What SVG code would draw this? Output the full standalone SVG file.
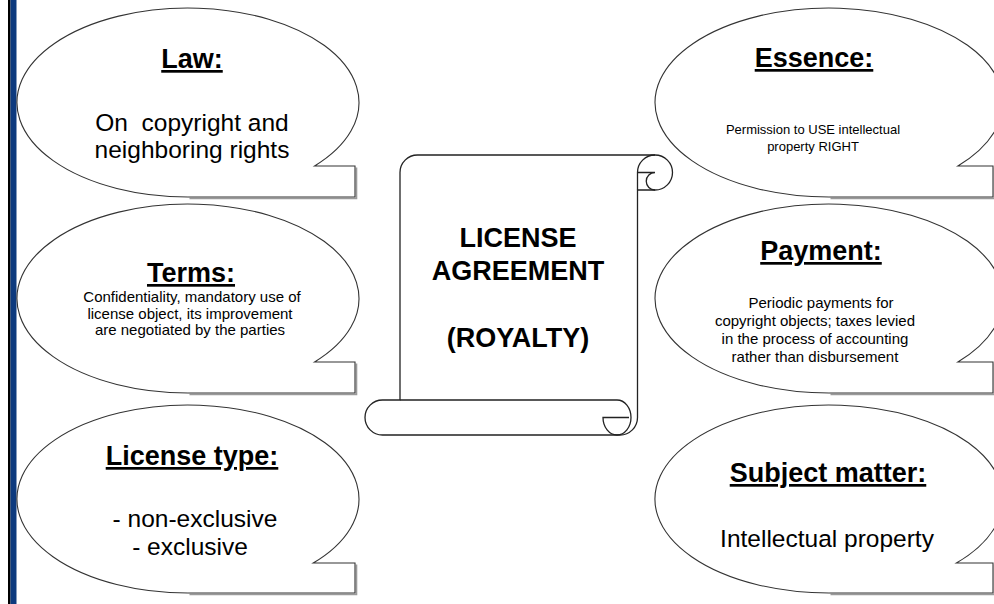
<svg xmlns="http://www.w3.org/2000/svg" width="994" height="604" viewBox="0 0 994 604">
  <style>
    .bubble { fill: #ffffff; stroke: #333333; stroke-width: 1.1; }
    .shade { fill: none; stroke: #9a9a9a; stroke-width: 1.6; }
    .scroll { fill: #ffffff; stroke: #222222; stroke-width: 1.3; stroke-linejoin: round; }
    .curl { fill: none; stroke: #222222; stroke-width: 1.3; }
    text { font-family: "Liberation Sans", Arial, sans-serif; fill: #000000; text-anchor: middle; }
    .title { font-size: 27px; font-weight: bold; text-decoration: underline; }
    .big { font-size: 24.5px; }
    .mid { font-size: 15px; }
    .small { font-size: 13px; }
    .center { font-size: 27px; font-weight: bold; }
  </style>

  <rect width="994" height="604" fill="#ffffff"/>
  <!-- frame bar on the left -->
  <rect x="8" y="0" width="2.5" height="604" fill="#000000"/>
  <rect x="10.5" y="0" width="6" height="604" fill="#0d3a7e"/>

  <!-- central scroll -->
  <g id="license-agreement">
    <path class="scroll" d="M 417.5 155 L 655 155 A 17.5 17.5 0 0 1 655 190 L 637.5 190 L 637.5 417.5 A 17.5 17.5 0 0 1 620 435 L 382.5 435 A 17.5 17.5 0 0 1 382.5 400 L 400 400 L 400 172.5 A 17.5 17.5 0 0 1 417.5 155 Z"/>
    <path class="curl" d="M 655 155 A 17.5 17.5 0 0 0 637.5 172.5 L 637.5 190 M 637.5 172.5 L 655 172.5 A 8.75 8.75 0 0 0 655 190"/>
    <path class="curl" d="M 400 400 L 617 400 A 14 17.5 0 0 1 617 435 A 14 17.5 0 0 1 603 417.5 L 629 417.5"/>
    <text class="center" x="518" y="247">LICENSE</text>
    <text class="center" x="518" y="280">AGREEMENT</text>
    <text class="center" x="518" y="347">(ROYALTY)</text>
  </g>

  <!-- left column -->
  <g id="law">
    <path class="shade" transform="translate(1.5,1.5)" d="M 355 166 L 355 197 L 188 197"/>
    <path class="bubble" d="M 314.6 166 L 355 166 L 355 197 L 188 197 A 171 94.5 0 1 1 314.6 166 Z"/>
    <text class="title" x="192" y="68">Law:</text>
    <text class="big" x="192" y="131" xml:space="preserve">On  copyright and</text>
    <text class="big" x="192" y="158">neighboring rights</text>
  </g>

  <g id="terms">
    <path class="shade" transform="translate(1.5,1.5)" d="M 355 362 L 355 393 L 188 393"/>
    <path class="bubble" d="M 314.6 362 L 355 362 L 355 393 L 188 393 A 171 94.5 0 1 1 314.6 362 Z"/>
    <text class="title" x="191" y="282">Terms:</text>
    <text class="mid" x="192" y="302">Confidentiality, mandatory use of</text>
    <text class="mid" x="190" y="318.5">license object, its improvement</text>
    <text class="mid" x="190" y="335">are negotiated by the parties</text>
  </g>

  <g id="license-type">
    <path class="shade" transform="translate(1.5,1.5)" d="M 355 563 L 355 593 L 188 593"/>
    <path class="bubble" d="M 313.2 563 L 355 563 L 355 593 L 188 593 A 171 94 0 1 1 313.2 563 Z"/>
    <text class="title" x="192" y="465">License type:</text>
    <text class="big" x="195" y="527">- non-exclusive</text>
    <text class="big" x="190" y="555">- exclusive</text>
  </g>

  <!-- right column -->
  <g id="essence">
    <path class="shade" transform="translate(1.5,1.5)" d="M 993 166 L 993 197 L 829 197"/>
    <path class="bubble" d="M 957.9 166 L 993 166 L 993 197 L 829 197 A 174 94.5 0 1 1 957.9 166 Z"/>
    <text class="title" x="814" y="67">Essence:</text>
    <text class="small" x="813" y="134">Permission to USE intellectual</text>
    <text class="small" x="813" y="151">property RIGHT</text>
  </g>

  <g id="payment">
    <path class="shade" transform="translate(1.5,1.5)" d="M 993 362 L 993 393 L 829 393"/>
    <path class="bubble" d="M 957.9 362 L 993 362 L 993 393 L 829 393 A 174 94.5 0 1 1 957.9 362 Z"/>
    <text class="title" x="821" y="260">Payment:</text>
    <text class="mid" x="821" y="308">Periodic payments for</text>
    <text class="mid" x="815" y="326">copyright objects; taxes levied</text>
    <text class="mid" x="815" y="344">in the process of accounting</text>
    <text class="mid" x="815" y="362">rather than disbursement</text>
  </g>

  <g id="subject-matter">
    <path class="shade" transform="translate(1.5,1.5)" d="M 993 563 L 993 593 L 829 593"/>
    <path class="bubble" d="M 956.4 563 L 993 563 L 993 593 L 829 593 A 174 94 0 1 1 956.4 563 Z"/>
    <text class="title" x="828" y="482">Subject matter:</text>
    <text class="big" x="827" y="547">Intellectual property</text>
  </g>

  <g id="connectors"></g>
</svg>
